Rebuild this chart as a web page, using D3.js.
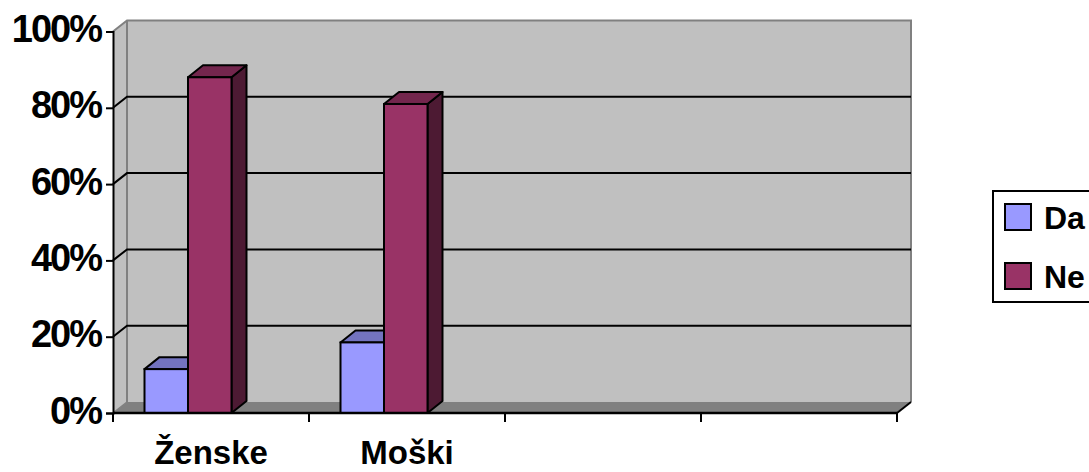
<!DOCTYPE html>
<html>
<head>
<meta charset="utf-8">
<script src="https://cdn.jsdelivr.net/npm/d3@7"></script>
<style>
  html, body { margin: 0; padding: 0; background: #fff; }
  svg { display: block; }
  text { font-family: "Liberation Sans", Arial, sans-serif; font-weight: bold; fill: #000; }
</style>
</head>
<body>
<svg id="chart" width="1089" height="472"></svg>
<script>
// ---- data ----
const categories = ["Ženske", "Moški", "", ""];
const seriesNames = ["Da", "Ne"];
const daValues = [11.5, 18.5, null, null];
const neValues = [88, 81, null, null];
const yTicks = [0, 20, 40, 60, 80, 100];
const seriesColors = ["#9999ff", "#993366"];

// ---- layout ----
const W = 1089, H = 472;
const plotLeft = 113, plotRight = 897, plotBottom = 413, plotTop = 31.5;
const wallDx = 14, wallDy = -11;   // depth of walls
const barDx = 15, barDy = -12;     // depth of bars
const clusterStart = 31.5, barW = 43.5;

const svg = d3.select("#chart");

const x = d3.scaleBand().domain(d3.range(categories.length)).range([plotLeft, plotRight]).padding(0);
const xs = d3.scaleBand().domain(seriesNames).range([clusterStart, clusterStart + 2 * barW]).padding(0);
const y = d3.scaleLinear().domain([0, 100]).range([plotBottom, plotTop]);

const shade = (c, k) => { const r = d3.rgb(c); return d3.rgb(r.r * k, r.g * k, r.b * k).formatHex(); };
const poly = pts => "M" + pts.map(p => p.join(",")).join("L") + "Z";

// back wall
svg.append("path")
  .attr("d", poly([[plotLeft + wallDx, y(100) + wallDy], [plotRight + wallDx, y(100) + wallDy],
                   [plotRight + wallDx, y(0) + wallDy], [plotLeft + wallDx, y(0) + wallDy]]))
  .attr("fill", "#c0c0c0");
// left side wall
svg.append("path")
  .attr("d", poly([[plotLeft, y(100)], [plotLeft + wallDx, y(100) + wallDy],
                   [plotLeft + wallDx, y(0) + wallDy], [plotLeft, y(0)]]))
  .attr("fill", "#c0c0c0");
// floor
svg.append("path")
  .attr("d", poly([[plotLeft, y(0)], [plotLeft + wallDx, y(0) + wallDy],
                   [plotRight + wallDx, y(0) + wallDy], [plotRight, y(0)]]))
  .attr("fill", "#808080");

// wall borders (gray)
svg.append("path")
  .attr("d", `M${plotLeft},${y(100)}L${plotLeft + wallDx},${y(100) + wallDy}L${plotRight + wallDx},${y(100) + wallDy}L${plotRight + wallDx},${y(0) + wallDy}`)
  .attr("fill", "none").attr("stroke", "#808080").attr("stroke-width", 2);
svg.append("line")
  .attr("x1", plotLeft + wallDx).attr("x2", plotLeft + wallDx)
  .attr("y1", y(100) + wallDy).attr("y2", y(0) + wallDy)
  .attr("stroke", "#808080").attr("stroke-width", 2);
svg.append("line")
  .attr("x1", plotLeft).attr("y1", y(0))
  .attr("x2", plotLeft + wallDx).attr("y2", y(0) + wallDy)
  .attr("stroke", "#808080").attr("stroke-width", 1.5);

// gridlines on back wall + left wall
const grid = yTicks.filter(t => t > 0 && t < 100);
svg.append("g").selectAll("path").data(grid).join("path")
  .attr("d", t => `M${plotLeft},${y(t)}L${plotLeft + wallDx},${y(t) + wallDy}L${plotRight + wallDx},${y(t) + wallDy}`)
  .attr("fill", "none").attr("stroke", "#000").attr("stroke-width", 2);

// y axis
const yAxis = svg.append("g")
  .attr("transform", `translate(${plotLeft},0)`)
  .call(d3.axisLeft(y).tickValues(yTicks).tickFormat(d => d + "%").tickSize(7).tickPadding(5));
yAxis.select(".domain").attr("stroke", "#000").attr("stroke-width", 2);
yAxis.selectAll(".tick line").attr("stroke", "#000").attr("stroke-width", 2);
yAxis.selectAll(".tick text")
  .attr("font-size", 38).attr("letter-spacing", "-2px")
  .attr("font-family", "'Liberation Sans', Arial, sans-serif").attr("font-weight", "bold")
  .attr("fill", "#000").attr("dy", "0.32em").attr("y", -2);

// bars
const barData = [];
categories.forEach((c, i) => {
  [daValues[i], neValues[i]].forEach((v, s) => {
    if (v != null) barData.push({ cat: i, series: seriesNames[s], color: seriesColors[s], value: v });
  });
});
const bars = svg.append("g").selectAll("g").data(barData).join("g");
bars.each(function (d) {
  const g = d3.select(this);
  const x0 = x(d.cat) + xs(d.series), x1 = x0 + xs.bandwidth();
  const yt = y(d.value), yb = y(0);
  // side
  g.append("path").attr("d", poly([[x1, yt], [x1 + barDx, yt + barDy], [x1 + barDx, yb + barDy], [x1, yb]]))
    .attr("fill", shade(d.color, 0.5)).attr("stroke", "#000").attr("stroke-width", 2).attr("stroke-linejoin", "round");
  // top
  g.append("path").attr("d", poly([[x0, yt], [x0 + barDx, yt + barDy], [x1 + barDx, yt + barDy], [x1, yt]]))
    .attr("fill", shade(d.color, 0.75)).attr("stroke", "#000").attr("stroke-width", 2).attr("stroke-linejoin", "round");
  // front
  g.append("rect").attr("x", x0).attr("y", yt).attr("width", x1 - x0).attr("height", yb - yt)
    .attr("fill", d.color).attr("stroke", "#000").attr("stroke-width", 2);
});

// x axis (front floor edge)
svg.append("line").attr("x1", plotLeft).attr("x2", plotRight).attr("y1", y(0)).attr("y2", y(0))
  .attr("stroke", "#000").attr("stroke-width", 2.5);
svg.append("line").attr("x1", plotRight).attr("y1", y(0)).attr("x2", plotRight + wallDx).attr("y2", y(0) + wallDy)
  .attr("stroke", "#000").attr("stroke-width", 2);
const boundaries = d3.range(categories.length).map(i => x(i)).concat([x.range()[1]]);
svg.append("g").selectAll("line").data(boundaries).join("line")
  .attr("x1", d => d).attr("x2", d => d).attr("y1", y(0)).attr("y2", y(0) + 9)
  .attr("stroke", "#000").attr("stroke-width", 2);
svg.append("g").selectAll("text").data(categories).join("text")
  .attr("x", (d, i) => x(i) + x.bandwidth() / 2)
  .attr("y", 464)
  .attr("text-anchor", "middle")
  .attr("font-size", 33)
  .text(d => d);

// legend
const lg = svg.append("g");
const legTop = 191, legLeft = 993, legBottom = 302;
lg.append("rect").attr("x", legLeft).attr("y", legTop).attr("width", 120).attr("height", legBottom - legTop)
  .attr("fill", "#fff").attr("stroke", "#000").attr("stroke-width", 2);
const legRows = [217, 276];
seriesNames.forEach((s, i) => {
  lg.append("rect").attr("x", 1005).attr("y", legRows[i] - 13).attr("width", 26).attr("height", 26)
    .attr("fill", seriesColors[i]).attr("stroke", "#000").attr("stroke-width", 2);
  lg.append("text").attr("x", 1044).attr("y", legRows[i]).attr("dy", "0.36em")
    .attr("font-size", 32).text(s);
});
</script>
</body>
</html>
